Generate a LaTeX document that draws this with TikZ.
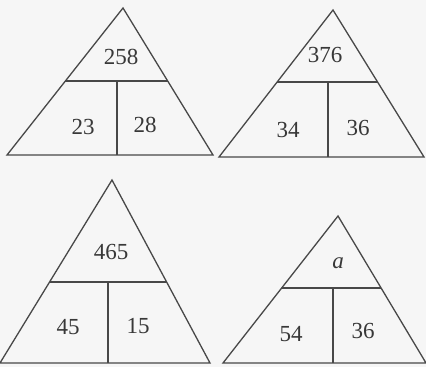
\documentclass[tikz,border=0pt]{standalone}
\usepackage{fontspec}
\setmainfont{Liberation Serif}
\usetikzlibrary{calc}
\definecolor{inkline}{HTML}{484848}
\definecolor{inktext}{HTML}{383838}
\definecolor{paper}{HTML}{F6F6F6}
\tikzset{
  edge/.style={draw=inkline, line width=1.3pt, line join=miter},
  num/.style={text=inktext, font=\fontsize{23}{26}\selectfont, inner sep=0pt}
}
\begin{document}
\begin{tikzpicture}[x=1pt,y=-1pt]
\fill[paper] (0,0) rectangle (426,367);
\useasboundingbox (0,0) rectangle (426,367);
% triangle 1
\coordinate (A1) at (123,8);
\coordinate (L1) at (7,155);
\coordinate (R1) at (213,155);
\coordinate (HL1) at ($(A1)!0.497!(L1)$);
\coordinate (HR1) at ($(A1)!0.497!(R1)$);
\coordinate (VB1) at (117,155);
\coordinate (VT1) at (VB1 |- HL1);
\draw[edge] (A1) -- (L1) -- (R1) -- cycle;
\draw[edge] (HL1) -- (HR1);
\draw[edge] (VT1) -- (VB1);
\node[num] (t1) at (121,57) {258};
\node[num] (l1) at (83,127) {23};
\node[num] (r1) at (145,125) {28};
% triangle 2
\coordinate (A2) at (333,10);
\coordinate (L2) at (219,157);
\coordinate (R2) at (424,157);
\coordinate (HL2) at ($(A2)!0.49!(L2)$);
\coordinate (HR2) at ($(A2)!0.49!(R2)$);
\coordinate (VB2) at (328,157);
\coordinate (VT2) at (VB2 |- HL2);
\draw[edge] (A2) -- (L2) -- (R2) -- cycle;
\draw[edge] (HL2) -- (HR2);
\draw[edge] (VT2) -- (VB2);
\node[num] (t2) at (325,55) {376};
\node[num] (l2) at (288,130) {34};
\node[num] (r2) at (358,128) {36};
% triangle 3
\coordinate (A3) at (112,180);
\coordinate (L3) at (0,363);
\coordinate (R3) at (210,363);
\coordinate (HL3) at ($(A3)!0.557!(L3)$);
\coordinate (HR3) at ($(A3)!0.557!(R3)$);
\coordinate (VB3) at (108,363);
\coordinate (VT3) at (VB3 |- HL3);
\draw[edge] (A3) -- (L3) -- (R3) -- cycle;
\draw[edge] (HL3) -- (HR3);
\draw[edge] (VT3) -- (VB3);
\node[num] (t3) at (111,252) {465};
\node[num] (l3) at (68,327) {45};
\node[num] (r3) at (138,326) {15};
% triangle 4
\coordinate (A4) at (338,216);
\coordinate (L4) at (223,363);
\coordinate (R4) at (426,363);
\coordinate (HL4) at ($(A4)!0.49!(L4)$);
\coordinate (HR4) at ($(A4)!0.49!(R4)$);
\coordinate (VB4) at (333,363);
\coordinate (VT4) at (VB4 |- HL4);
\draw[edge] (A4) -- (L4) -- (R4) -- cycle;
\draw[edge] (HL4) -- (HR4);
\draw[edge] (VT4) -- (VB4);
\node[num] (t4) at (338,263) {\textit{a}};
\node[num] (l4) at (291,334) {54};
\node[num] (r4) at (363,331) {36};
\end{tikzpicture}
\end{document}
